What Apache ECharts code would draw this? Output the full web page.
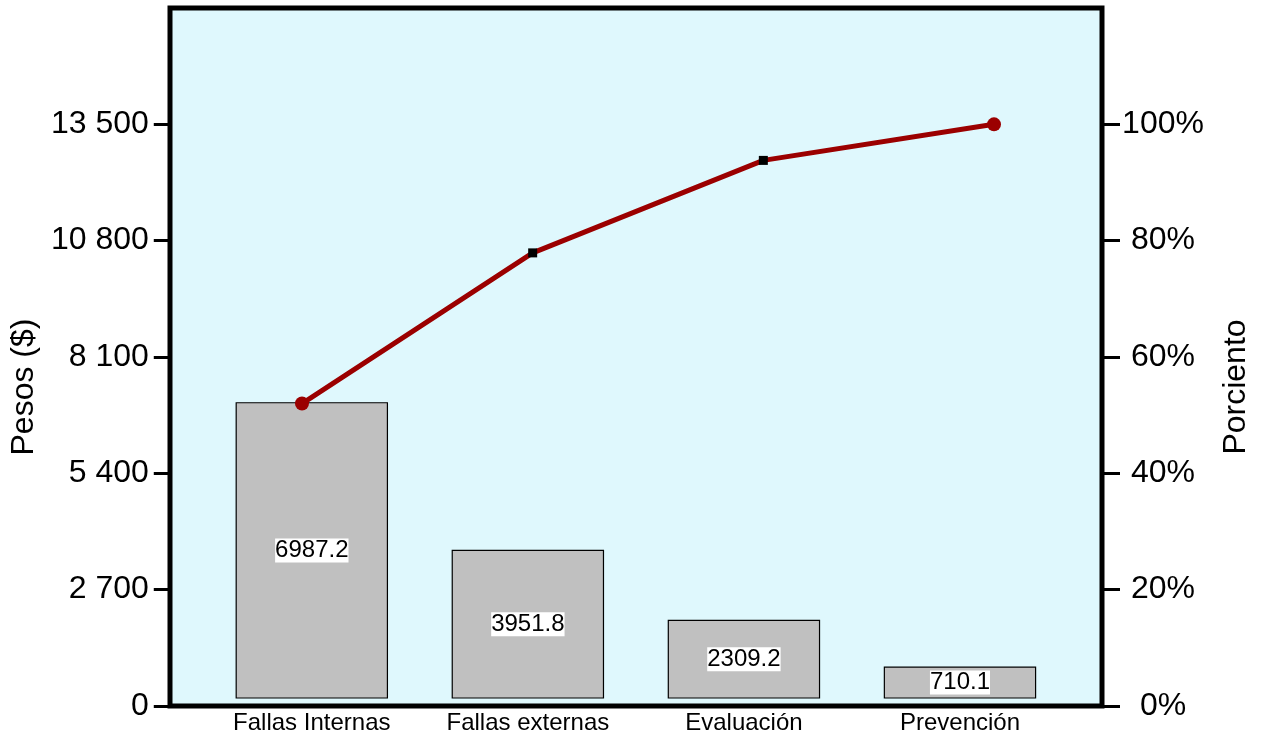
<!DOCTYPE html>
<html>
<head>
<meta charset="utf-8">
<script src="https://cdn.jsdelivr.net/npm/echarts@6/dist/echarts.min.js"></script>
<style>
html,body{margin:0;padding:0;background:#fff;}
#chart{width:1262px;height:742px;}
</style>
</head>
<body>
<div id="chart"></div>
<script>
// ---- data ----
var categories = ['Fallas Internas', 'Fallas externas', 'Evaluación', 'Prevención'];
var barValues = [7038, 3614, 1987, 902];            // bar heights (Pesos, left axis)
var barLabels = ['6987.2', '3951.8', '2309.2', '710.1'];
var cumPercent = [52.0, 77.9, 93.8, 100.0];         // line (right axis, %)
var leftTicks = [0, 2700, 5400, 8100, 10800, 13500];
var rightTicks = [0, 20, 40, 60, 80, 100];

var FONT = '"Liberation Sans", Arial, Helvetica, sans-serif';
var chart = echarts.init(document.getElementById('chart'));

function thousands(v) {
  return String(v).replace(/\B(?=(\d{3})+(?!\d))/g, ' ');
}

var BAR_LIFT = 8;

var option = {
  animation: false,
  backgroundColor: '#ffffff',
  grid: [
    { left: 170, top: 8, width: 932, height: 698, show: true,
      backgroundColor: '#dff8fd', borderColor: '#000', borderWidth: 5 },
    { left: 202, top: 8, width: 866, height: 698 },
    { left: 302, top: 8, width: 692, height: 698 }
  ],
  xAxis: [
    { gridIndex: 0, type: 'category', data: categories, show: false },
    { gridIndex: 1, type: 'category', data: categories,
      axisLine: { show: false }, axisTick: { show: false },
      axisLabel: { fontSize: 24, color: '#000', fontFamily: FONT, margin: 5 } },
    { gridIndex: 2, type: 'category', data: categories, boundaryGap: false, show: false }
  ],
  yAxis: [
    { gridIndex: 0, type: 'value', min: 0, max: 16200, show: false, splitLine: { show: false } },
    { gridIndex: 1, type: 'value', position: 'left', offset: 32,
      min: 0, max: 16200, interval: 2700,
      name: 'Pesos ($)', nameLocation: 'middle', nameGap: 126,
      nameTextStyle: { fontSize: 32, color: '#000', fontFamily: FONT, padding: [0, 60, 0, 0] },
      axisLine: { show: false },
      axisTick: { show: true, inside: false, length: 18, customValues: leftTicks,
        lineStyle: { color: '#000', width: 3 } },
      axisLabel: { customValues: leftTicks, fontSize: 32, color: '#000', fontFamily: FONT, margin: 23,
        formatter: function (v) { return thousands(v); } },
      splitLine: { show: false } },
    { gridIndex: 2, type: 'value', position: 'right', offset: 108,
      min: 0, max: 120, interval: 20,
      name: 'Porciento', nameLocation: 'middle', nameGap: 118,
      nameTextStyle: { fontSize: 32, color: '#000', fontFamily: FONT, padding: [0, 60, 0, 0] },
      axisLine: { show: false },
      axisTick: { show: true, inside: false, length: 18, customValues: rightTicks,
        lineStyle: { color: '#000', width: 3 } },
      axisLabel: { customValues: rightTicks, fontSize: 32, color: '#000', fontFamily: FONT,
        margin: 61, align: 'center', formatter: '{value}%' },
      splitLine: { show: false } }
  ],
  series: [
    {
      type: 'custom',
      xAxisIndex: 1, yAxisIndex: 1,
      encode: { x: 0, y: 1 },
      data: barValues.map(function (v, i) { return [i, v]; }),
      renderItem: function (params, api) {
        var idx = api.value(0), v = api.value(1);
        var top = api.coord([idx, v]);
        var base = api.coord([idx, 0]);
        var w = api.size([1, 0])[0] * 0.7;
        var y0 = base[1] - BAR_LIFT;
        return {
          type: 'group',
          children: [
            { type: 'rect',
              shape: { x: top[0] - w / 2, y: top[1], width: w, height: y0 - top[1] },
              style: { fill: '#c0c0c0', stroke: '#000', lineWidth: 1.2 } },
            { type: 'text', x: top[0], y: (top[1] + y0) / 2,
              style: { text: barLabels[idx], fill: '#000', fontSize: 24, fontFamily: FONT,
                align: 'center', verticalAlign: 'middle', backgroundColor: '#ffffff' } }
          ]
        };
      }
    },
    {
      type: 'line',
      xAxisIndex: 2, yAxisIndex: 2,
      data: cumPercent.map(function (v, i) {
        var end = (i === 0 || i === cumPercent.length - 1);
        return end
          ? { value: v, symbol: 'circle', symbolSize: 14, itemStyle: { color: '#9b0000' } }
          : { value: v, symbol: 'rect', symbolSize: 9, itemStyle: { color: '#000' } };
      }),
      showSymbol: true,
      lineStyle: { color: '#9b0000', width: 5 },
      z: 5
    }
  ]
};
chart.setOption(option);
</script>
</body>
</html>
